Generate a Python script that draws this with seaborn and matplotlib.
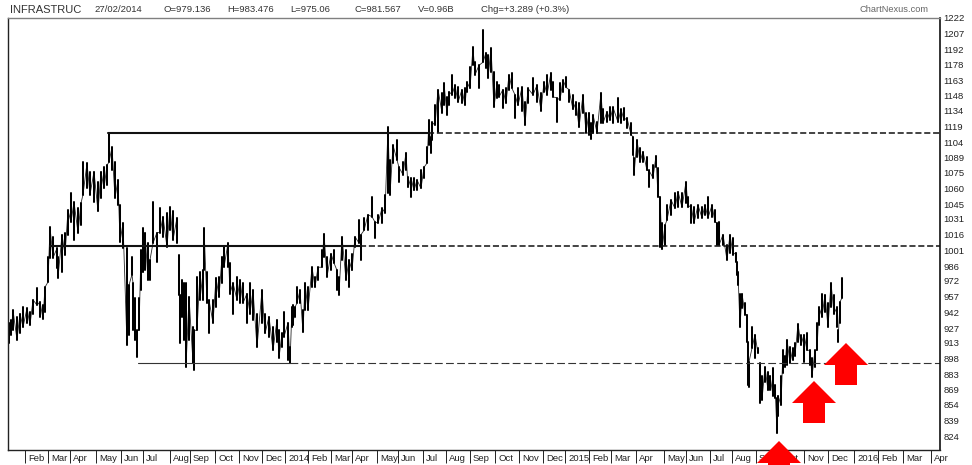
import numpy as np
import pandas as pd
import matplotlib
matplotlib.use('Agg')
import matplotlib.pyplot as plt
import seaborn as sns
from matplotlib.patches import Polygon
from matplotlib.transforms import ScaledTranslation

# session slot, high and low of each price bar
session = [1, 3, 5, 9, 12, 15, 19, 22, 25, 29, 32, 35, 37, 40, 42, 45, 49, 50, 54, 57, 60, 63, 66, 70, 73, 75, 79, 82, 86, 90, 93, 96, 99, 101, 104, 107, 110, 112, 115, 119, 121, 124, 125, 127, 129, 131, 133, 135, 137, 140, 142, 145, 149, 152, 155, 159, 162, 165, 169,
           171, 172, 174, 176, 178, 181, 185, 186, 189, 192, 195, 196, 199, 201, 205, 208, 211, 214, 216, 220, 222, 225, 229, 232, 235, 239, 242, 245, 249, 254, 257, 261, 265, 269, 271, 274, 276, 280, 282, 284, 285, 287, 289, 292, 295, 297, 300, 304, 307, 310, 314, 316, 319, 323, 326, 329, 331, 334, 338, 341, 344, 347, 351, 353, 356, 360, 364, 367, 370, 374, 377, 380, 382, 385, 389, 391, 395, 398, 400, 403, 406, 409, 413, 416, 419, 421, 423, 424, 427, 430, 434, 436, 439, 441, 444, 447, 450, 454, 457, 459, 462, 465, 467, 471, 475, 478, 480, 483, 486, 489, 491, 495, 498, 501, 504, 507, 510, 514, 517, 520, 525, 529, 533, 536, 539, 543, 545, 549, 552, 555, 558, 561, 565, 568, 571, 575, 578, 581, 583, 585, 589, 593, 595, 599, 602, 605, 610, 613, 616, 619, 623, 625, 626, 629, 632, 635, 639, 641, 645, 648, 650, 652, 654, 657, 659, 663, 667, 670, 674, 678, 680, 683, 686, 690, 694, 697, 700, 704, 707, 709, 711, 715, 719, 722, 725, 728, 729, 730, 732, 734, 737, 739, 740, 741, 744, 747, 750, 752, 754, 757, 760, 762, 765, 767, 769, 770, 773, 775, 777, 779, 782, 785, 787, 790, 793, 796, 799, 802, 804, 807, 809, 811, 814, 817, 820, 823, 826, 829, 830, 832, 834]
high = [932, 935, 944, 938, 941, 947, 946, 942, 954, 965, 952, 949, 966, 995, 1023, 1014, 1003, 995, 1016, 1018, 1039, 1056, 1047, 1041, 1046, 1085, 1084, 1076, 1076, 1066, 1076, 1080, 1082, 1113, 1099, 1085, 1068, 1044, 1027, 1003, 968, 995, 970, 956, 925, 956, 1001, 1022, 1018, 1008, 992, 1047, 1018, 1041, 1033, 1037, 1042, 1038, 1032,
        997, 959, 973, 970, 970, 957, 928, 925, 976, 980, 982, 1022, 980, 954, 954, 975, 976, 995, 1004, 1008, 989, 970, 976, 973, 970, 960, 970, 963, 941, 963, 941, 938, 928, 935, 925, 922, 942, 932, 909, 947, 949, 947, 966, 963, 944, 970, 966, 985, 976, 985, 1001, 1017, 995, 998, 1001, 982, 976, 1014, 1001, 992, 998, 1014, 1030, 1016, 1032, 1035, 1052, 1028, 1035, 1041, 1054, 1118, 1087, 1101, 1106, 1080, 1085, 1094, 1071, 1070, 1070, 1068, 1077, 1080, 1099, 1125, 1109, 1123, 1139, 1154, 1151, 1160, 1147, 1152, 1168, 1158, 1156, 1154, 1155, 1161, 1175, 1194, 1180, 1177, 1211, 1189, 1187, 1193, 1171, 1161, 1158, 1154, 1155, 1168, 1170, 1149, 1155, 1156, 1142, 1155, 1165, 1158, 1151, 1161, 1168, 1170, 1161, 1146, 1160, 1163, 1166, 1154, 1149, 1142, 1141, 1149, 1132, 1132, 1122, 1130, 1123, 1151, 1135, 1133, 1137, 1137, 1146, 1135, 1136, 1127, 1122, 1109, 1089, 1106, 1098, 1095, 1090, 1077, 1082, 1091, 1079, 1052, 1027, 1025, 1044, 1049, 1056, 1057, 1056, 1066, 1052, 1044, 1042, 1044, 1042, 1044, 1052, 1044, 1039, 1027, 1028, 1016, 1006, 1016, 1013, 999, 990, 980, 960, 960, 951, 940, 914, 895, 928, 921, 908, 894, 882, 890, 885, 882, 889, 873, 861, 863, 882, 906, 901, 916, 909, 908, 913, 931, 921, 921, 922, 906, 899, 906, 932, 947, 960, 959, 951, 970, 959, 947, 925, 952, 975]
low = [913, 921, 925, 916, 922, 928, 932, 930, 941, 949, 938, 936, 942, 971, 994, 994, 984, 975, 980, 997, 1016, 1028, 1011, 1018, 1025, 1054, 1060, 1054, 1047, 1038, 1051, 1060, 1063, 1085, 1077, 1051, 1044, 1009, 1003, 911, 921, 978, 925, 916, 900, 925, 963, 980, 982, 973, 973, 1008, 990, 1018, 1014, 1004, 1020, 1011, 1008,
       959, 913, 938, 916, 890, 916, 894, 887, 925, 954, 954, 982, 951, 922, 932, 947, 957, 970, 985, 985, 960, 941, 954, 951, 951, 932, 941, 935, 909, 932, 922, 919, 906, 914, 899, 909, 919, 897, 894, 928, 930, 938, 951, 951, 923, 944, 944, 966, 966, 973, 985, 995, 976, 982, 989, 963, 959, 992, 973, 966, 982, 1004, 1008, 992, 1020, 1020, 1033, 1013, 1027, 1027, 1037, 1056, 1054, 1084, 1087, 1066, 1073, 1077, 1061, 1052, 1058, 1058, 1060, 1070, 1084, 1101, 1094, 1106, 1120, 1114, 1132, 1139, 1130, 1139, 1149, 1146, 1142, 1141, 1139, 1152, 1155, 1177, 1168, 1155, 1180, 1174, 1165, 1171, 1137, 1146, 1147, 1136, 1141, 1154, 1155, 1127, 1139, 1134, 1120, 1141, 1149, 1142, 1134, 1152, 1149, 1154, 1147, 1123, 1144, 1152, 1156, 1142, 1135, 1130, 1118, 1132, 1113, 1111, 1107, 1113, 1113, 1122, 1122, 1123, 1125, 1122, 1123, 1122, 1125, 1117, 1111, 1092, 1073, 1090, 1085, 1085, 1077, 1061, 1070, 1080, 1052, 1004, 1002, 1006, 1030, 1035, 1041, 1042, 1042, 1046, 1042, 1027, 1027, 1032, 1032, 1035, 1032, 1033, 1028, 1006, 1006, 1006, 992, 999, 997, 990, 978, 968, 928, 946, 940, 914, 873, 871, 908, 899, 903, 856, 859, 876, 868, 868, 863, 861, 827, 844, 854, 884, 890, 892, 894, 897, 901, 914, 911, 895, 906, 892, 881, 890, 906, 930, 938, 942, 928, 947, 941, 928, 914, 932, 956]
# sessions where the price series restarts after a blank stretch
run_starts = [171, 752, 830]

price_ticks = [1222, 1207, 1192, 1178, 1163, 1148, 1134, 1119, 1104, 1089, 1075, 1060, 1045, 1031,
               1016, 1001, 986, 972, 957, 942, 927, 913, 898, 883, 869, 854, 839, 824]
month_labels = ['Feb', 'Mar', 'Apr', 'May', 'Jun', 'Jul', 'Aug', 'Sep', 'Oct', 'Nov', 'Dec', '2014',
                'Feb', 'Mar', 'Apr', 'May', 'Jun', 'Jul', 'Aug', 'Sep', 'Oct', 'Nov', 'Dec', '2015',
                'Feb', 'Mar', 'Apr', 'May', 'Jun', 'Jul', 'Aug', 'Sep', 'Oct', 'Nov', 'Dec', '2016',
                'Feb', 'Mar', 'Apr']
month_sessions = [17, 40, 62, 88, 113, 135, 162, 182, 207, 231, 254, 277,
                  300, 323, 344, 369, 390, 415, 438, 462, 487, 511, 535, 557,
                  581, 603, 628, 656, 678, 702, 724, 748, 772, 796, 820, 846,
                  870, 895, 923]

resistance_top = 1113
resistance_mid = 1005
support_low = 894

sns.set_style('white')
plt.rcParams['font.family'] = ['Liberation Sans', 'DejaVu Sans']

df = pd.DataFrame({'session': session, 'high': high, 'low': low})
df['run'] = np.isin(df['session'], run_starts).cumsum()
df['zigzag'] = np.where(df.index % 2 == 0, df['high'], df['low'])
bars = df.melt(id_vars='session', value_vars=['high', 'low'], value_name='price')

fig = plt.figure(figsize=(9.72, 4.65), dpi=100)
ax = fig.add_axes([8 / 972, 1 - 450 / 465, 932 / 972, 432 / 465])

sns.lineplot(data=df, x='session', y='zigzag', units='run', estimator=None, sort=False,
             color='#2a2a2a', linewidth=0.6, ax=ax)
sns.lineplot(data=bars, x='session', y='price', units='session', estimator=None,
             color='black', linewidth=1.45, ax=ax)

# trend lines, solid up to the last touch and dashed after it
ax.plot([100, 420], [resistance_top] * 2, color='#111111', lw=1.5)
ax.plot([420, 932], [resistance_top] * 2, color='#111111', lw=1.1, ls=(0, (4, 1.8)))
ax.plot([42, 352], [resistance_mid] * 2, color='#111111', lw=1.5)
ax.plot([352, 932], [resistance_mid] * 2, color='#111111', lw=1.1, ls=(0, (4, 1.8)))
ax.plot([130, 282], [support_low] * 2, color='#333333', lw=0.8)
ax.plot([282, 932], [support_low] * 2, color='#333333', lw=0.8, ls=(0, (7, 3)))

ax.set_xlim(0, 932)
ax.set_ylim(811.2, 1222)
ax.set_xlabel('')
ax.set_ylabel('')

ax.set_xticks(month_sessions)
ax.set_xticklabels(month_labels, fontsize=6.8, color='#222222', ha='left')
ax.tick_params(axis='x', bottom=True, length=9.4, width=0.7, color='#222222', pad=-6.4)
shift = ScaledTranslation(2.2 / 72, 0, fig.dpi_scale_trans)
for lab in ax.get_xticklabels():
    lab.set_transform(lab.get_transform() + shift)

ax.set_yticks(price_ticks)
ax.set_yticklabels([str(p) for p in price_ticks], fontsize=6.8, color='#222222')
ax.tick_params(axis='y', left=False, right=False, labelleft=False, labelright=True, length=0, pad=2.5)

for side in ['left', 'bottom']:
    ax.spines[side].set_visible(True)
    ax.spines[side].set_color('#222222')
    ax.spines[side].set_linewidth(1.0)
ax.spines['right'].set_visible(True)
ax.spines['right'].set_color('#111111')
ax.spines['right'].set_linewidth(1.2)
ax.spines['top'].set_visible(True)
ax.spines['top'].set_color('#808080')
ax.spines['top'].set_linewidth(1.0)


def fig_xy(x, y):
    return (x / 972, 1 - y / 465)


header = [(10, 'INFRASTRUC', 8.0), (94, '27/02/2014', 6.8), (163, 'O=979.136', 6.8), (227, 'H=983.476', 6.8),
          (290, 'L=975.06', 6.8), (354, 'C=981.567', 6.8), (418, 'V=0.96B', 6.8), (481, 'Chg=+3.289 (+0.3%)', 6.8)]
for hx, txt, size in header:
    fig.text(*fig_xy(hx, 10), txt, fontsize=size, color='#333333', va='center', ha='left')
fig.text(*fig_xy(859, 10), 'ChartNexus.com', fontsize=6.7, color='#666666', va='center', ha='left')

# red arrows pasted over the chart
arrow_tips = [(779, 441), (814, 381), (846, 343)]
for tx, ty in arrow_tips:
    shape = [(tx, ty), (tx + 22, ty + 22), (tx + 11, ty + 22), (tx + 11, ty + 42),
             (tx - 11, ty + 42), (tx - 11, ty + 22), (tx - 22, ty + 22)]
    fig.add_artist(Polygon([fig_xy(*p) for p in shape], closed=True, facecolor='#ff0000',
                           edgecolor='none', transform=fig.transFigure, zorder=10))

plt.savefig('out.png', dpi=100)
